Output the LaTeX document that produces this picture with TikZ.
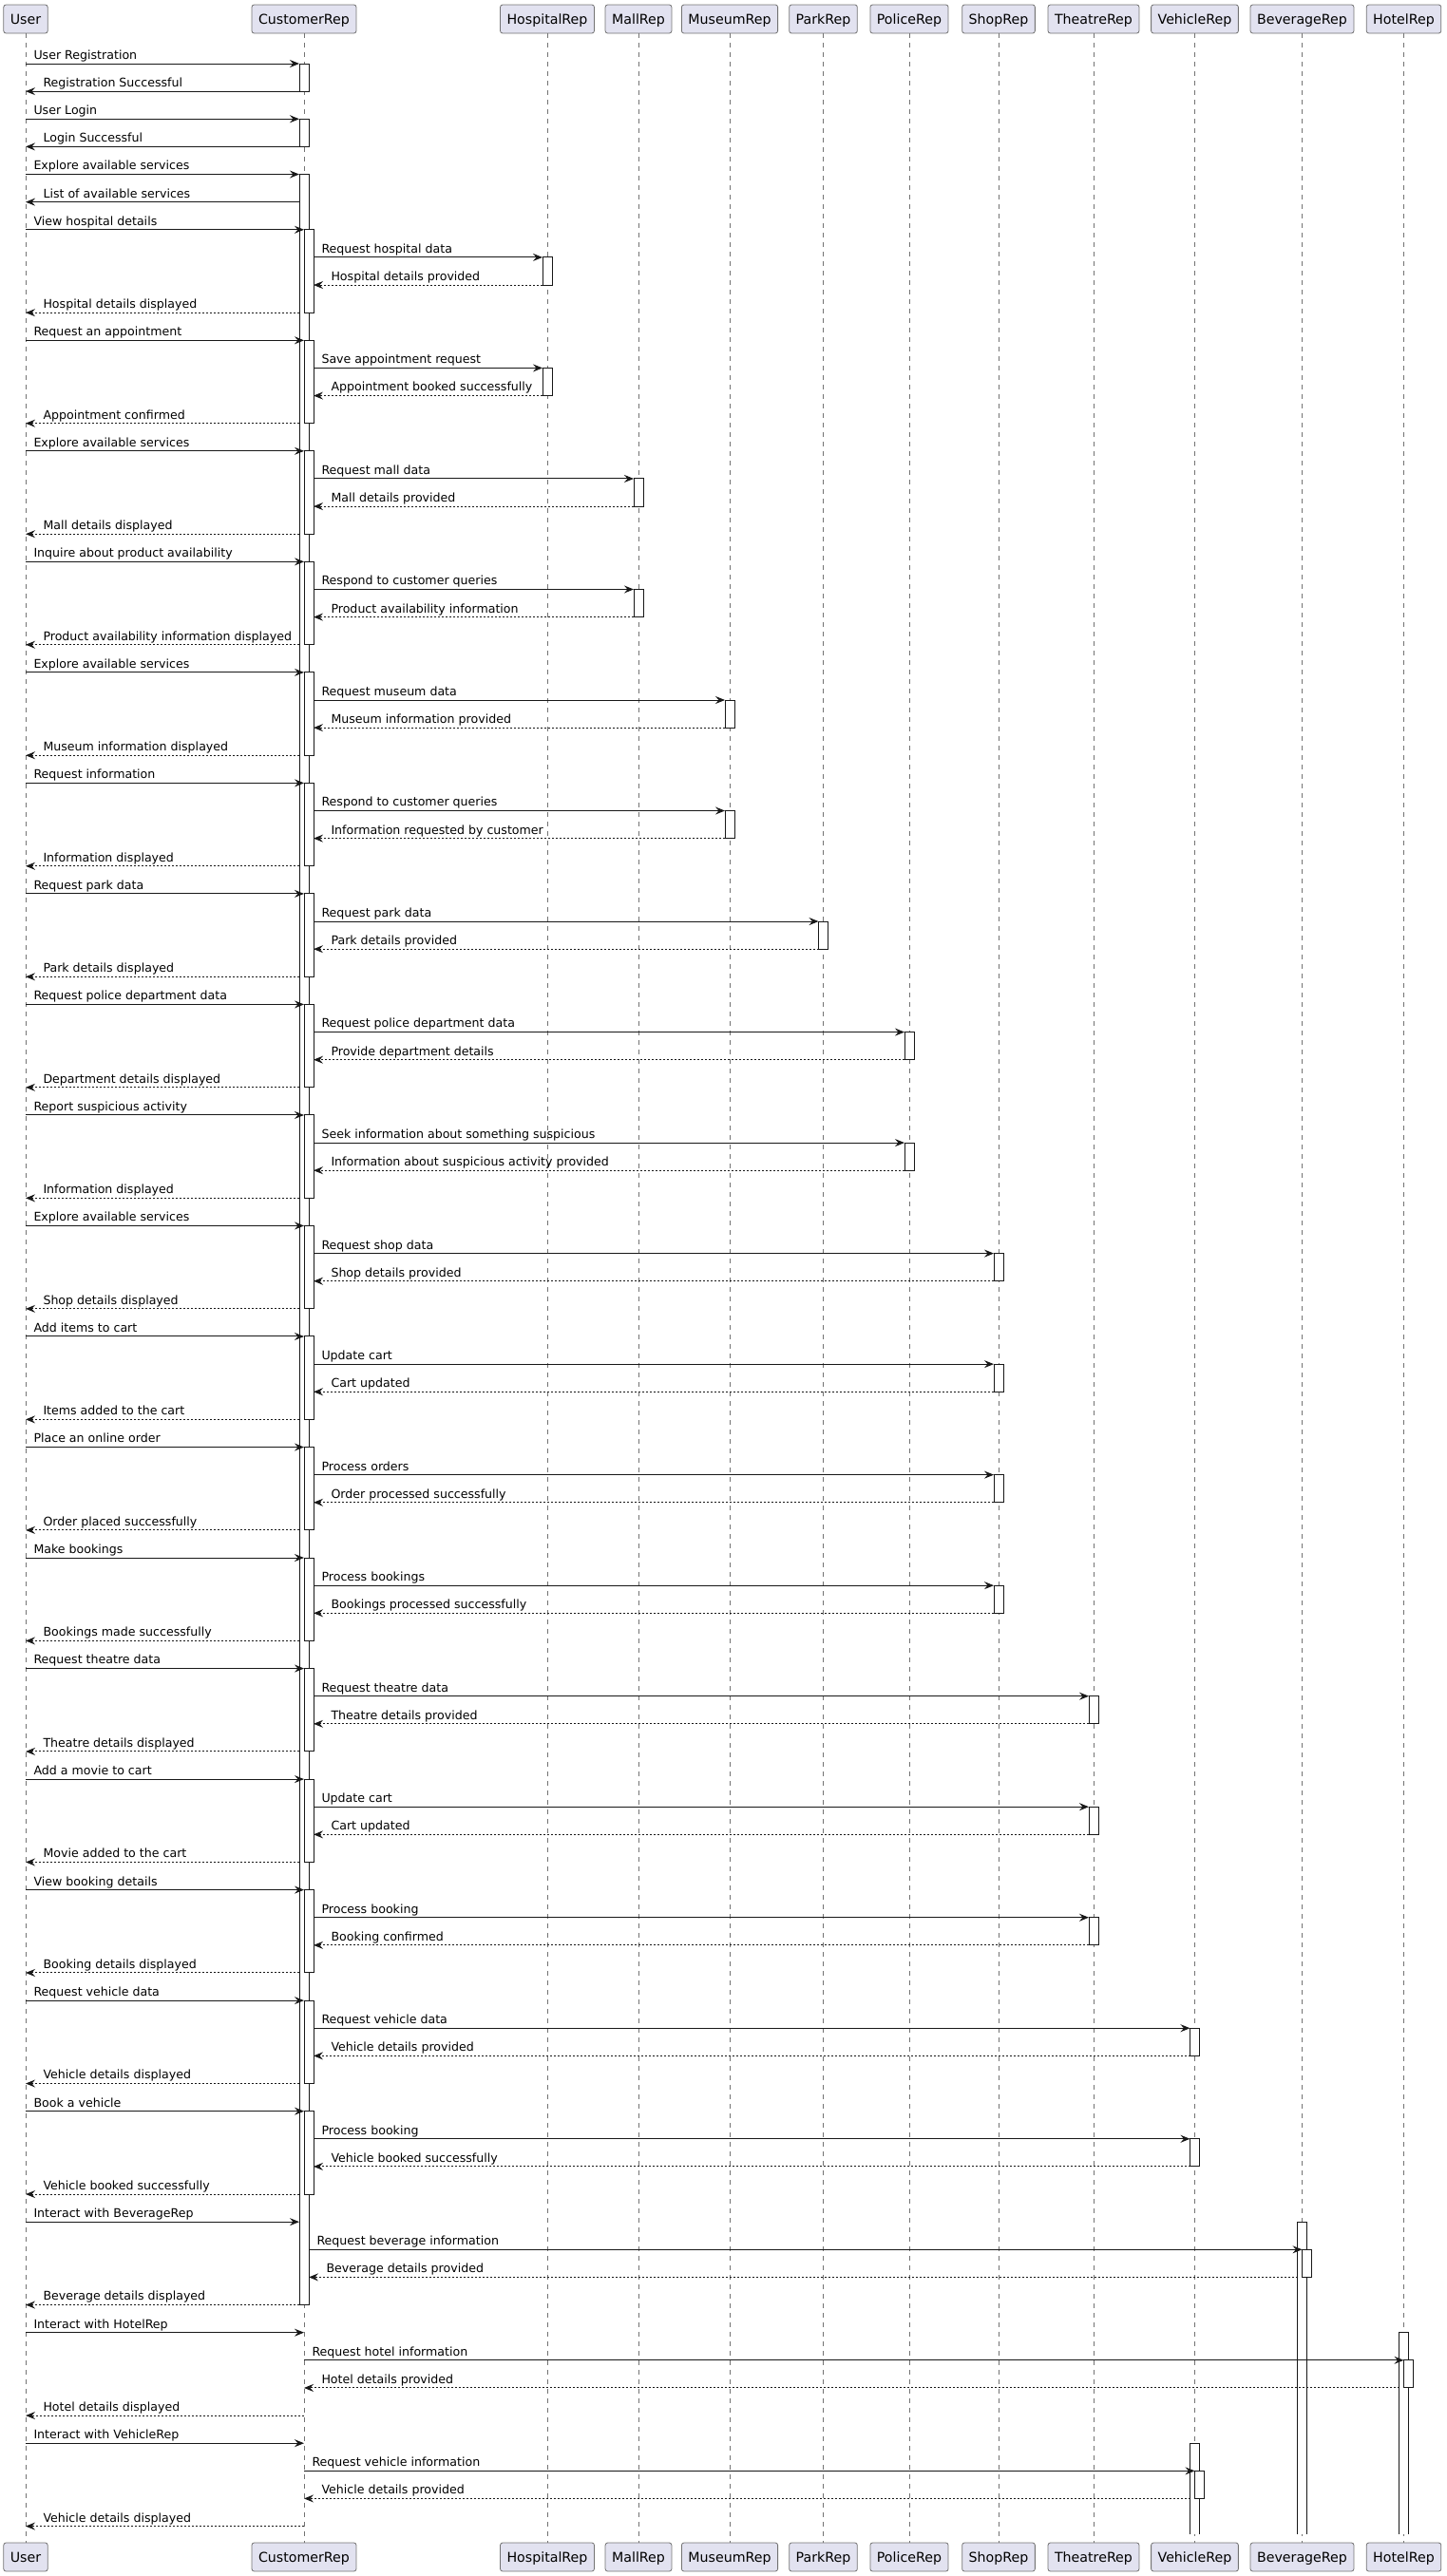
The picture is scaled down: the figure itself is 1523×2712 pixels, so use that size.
\documentclass[tikz,border=0pt]{standalone}
\usepackage{fontspec}
\setmainfont{DejaVu Sans}
\usetikzlibrary{arrows.meta, positioning}
\definecolor{partfill}{HTML}{E2E2F0}
\definecolor{ink}{HTML}{181818}

\begin{document}
\begin{tikzpicture}[x=1pt,y=-1pt,>={Stealth[length=10pt,width=8pt,inset=3.5pt]},line width=1pt]

		\tikzset{part/.style={draw=black!55, line width=0.8pt, fill=partfill,
								rounded corners=2.5pt, minimum height=30pt,
								inner xsep=7pt, inner ysep=0pt,
								text height=11.4pt, text depth=0pt,
								font=\fontsize{14.2}{17}\selectfont},
				 life/.style={draw=black!55, line width=0.8pt, dash pattern=on 5pt off 5pt},
				 act/.style={draw=ink, fill=white, line width=1pt},
				 msg/.style={draw=ink, ->, line width=1pt},
				 ret/.style={msg, dash pattern=on 2pt off 2pt},
				 lbl/.style={inner sep=0pt, anchor=base west, text=black,
								font=\fontsize{12.6}{15}\selectfont}}

		\useasboundingbox (0,0) rectangle (1523,2712);

		\foreach \p/\x/\txt in {User/27/User, Cust/320/CustomerRep, Hosp/576/HospitalRep,
				Mall/672/MallRep, Museum/768/MuseumRep, Park/866.5/ParkRep, Police/957/PoliceRep,
				Shop/1051/ShopRep, Theatre/1151/TheatreRep, Vehicle/1257.5/VehicleRep,
				Beverage/1370.5/BeverageRep, Hotel/1477.5/HotelRep}{
			\node[part] (\p) at (\x,20) {\txt};
			\node[part] (\p-b) at (\x,2692) {\txt};
			\draw[life] (\p) -- (\p-b);
		}

		\foreach \n in {1,...,90} \coordinate (r\n) at (0,{67+(\n-1)*29.13});
		\coordinate (rend) at (0,2668);

		\draw[act] ([xshift=-5]Cust |- r1) rectangle ([xshift=5]Cust |- r2);
		\draw[act] ([xshift=-5]Cust |- r3) rectangle ([xshift=5]Cust |- r4);
		\draw[act] ([xshift=-5]Cust |- r5) rectangle ([xshift=5]Cust |- r82);

		\foreach \k in {7,11,...,75}{
			\pgfmathtruncatemacro{\e}{\k+3}
			\draw[act] (Cust |- r\k) rectangle ([xshift=10]Cust |- r\e);
		}

		\foreach \p/\k in {Hosp/8, Hosp/12, Mall/16, Mall/20, Museum/24, Museum/28, Park/32,
				Police/36, Police/40, Shop/44, Shop/48, Shop/52, Shop/56, Theatre/60, Theatre/64,
				Theatre/68, Vehicle/72, Vehicle/76}{
			\pgfmathtruncatemacro{\e}{\k+1}
			\draw[act] ([xshift=-5]\p |- r\k) rectangle ([xshift=5]\p |- r\e);
		}

		\foreach \p/\k in {Beverage/79, Hotel/83, Vehicle/87}{
			\pgfmathtruncatemacro{\b}{\k+1}
			\pgfmathtruncatemacro{\e}{\k+2}
			\draw[act] ([xshift=-5]\p |- rend) -- ([xshift=-5]\p |- r\k)
				-- ([xshift=5]\p |- r\k) -- ([xshift=5]\p |- rend);
			\draw[act] (\p |- r\b) rectangle ([xshift=10]\p |- r\e);
		}

		\foreach \n/\src/\so/\dst/\dof/\txt in {
				1/User/0/Cust/-5/User Registration,
				3/User/0/Cust/-5/User Login,
				5/User/0/Cust/-5/Explore available services,
				7/User/0/Cust/0/View hospital details,
				8/Cust/10/Hosp/-5/Request hospital data,
				11/User/0/Cust/0/Request an appointment,
				12/Cust/10/Hosp/-5/Save appointment request,
				15/User/0/Cust/0/Explore available services,
				16/Cust/10/Mall/-5/Request mall data,
				19/User/0/Cust/0/Inquire about product availability,
				20/Cust/10/Mall/-5/Respond to customer queries,
				23/User/0/Cust/0/Explore available services,
				24/Cust/10/Museum/-5/Request museum data,
				27/User/0/Cust/0/Request information,
				28/Cust/10/Museum/-5/Respond to customer queries,
				31/User/0/Cust/0/Request park data,
				32/Cust/10/Park/-5/Request park data,
				35/User/0/Cust/0/Request police department data,
				36/Cust/10/Police/-5/Request police department data,
				39/User/0/Cust/0/Report suspicious activity,
				40/Cust/10/Police/-5/Seek information about something suspicious,
				43/User/0/Cust/0/Explore available services,
				44/Cust/10/Shop/-5/Request shop data,
				47/User/0/Cust/0/Add items to cart,
				48/Cust/10/Shop/-5/Update cart,
				51/User/0/Cust/0/Place an online order,
				52/Cust/10/Shop/-5/Process orders,
				55/User/0/Cust/0/Make bookings,
				56/Cust/10/Shop/-5/Process bookings,
				59/User/0/Cust/0/Request theatre data,
				60/Cust/10/Theatre/-5/Request theatre data,
				63/User/0/Cust/0/Add a movie to cart,
				64/Cust/10/Theatre/-5/Update cart,
				67/User/0/Cust/0/View booking details,
				68/Cust/10/Theatre/-5/Process booking,
				71/User/0/Cust/0/Request vehicle data,
				72/Cust/10/Vehicle/-5/Request vehicle data,
				75/User/0/Cust/0/Book a vehicle,
				76/Cust/10/Vehicle/-5/Process booking,
				79/User/0/Cust/-5/Interact with BeverageRep,
				80/Cust/5/Beverage/0/Request beverage information,
				83/User/0/Cust/0/Interact with HotelRep,
				84/Cust/0/Hotel/0/Request hotel information,
				87/User/0/Cust/0/Interact with VehicleRep,
				88/Cust/0/Vehicle/0/Request vehicle information}
			\draw[msg] ([xshift=\so]\src |- r\n) -- ([xshift=\dof]\dst |- r\n)
				node[lbl, pos=0, xshift=8pt, yshift=4.6pt] (l\n) {\txt};

		\foreach \n/\src/\so/\dst/\dof/\txt in {
				2/Cust/-5/User/0/Registration Successful,
				4/Cust/-5/User/0/Login Successful,
				6/Cust/-5/User/0/List of available services}
			\draw[msg] ([xshift=\so]\src |- r\n) -- ([xshift=\dof]\dst |- r\n)
				node[lbl, pos=1, xshift=18pt, yshift=4.6pt] (l\n) {\txt};

		\foreach \n/\src/\so/\dst/\dof/\txt in {
				9/Hosp/-5/Cust/10/Hospital details provided,
				10/Cust/-5/User/0/Hospital details displayed,
				13/Hosp/-5/Cust/10/Appointment booked successfully,
				14/Cust/-5/User/0/Appointment confirmed,
				17/Mall/-5/Cust/10/Mall details provided,
				18/Cust/-5/User/0/Mall details displayed,
				21/Mall/-5/Cust/10/Product availability information,
				22/Cust/-5/User/0/Product availability information displayed,
				25/Museum/-5/Cust/10/Museum information provided,
				26/Cust/-5/User/0/Museum information displayed,
				29/Museum/-5/Cust/10/Information requested by customer,
				30/Cust/-5/User/0/Information displayed,
				33/Park/-5/Cust/10/Park details provided,
				34/Cust/-5/User/0/Park details displayed,
				37/Police/-5/Cust/10/Provide department details,
				38/Cust/-5/User/0/Department details displayed,
				41/Police/-5/Cust/10/Information about suspicious activity provided,
				42/Cust/-5/User/0/Information displayed,
				45/Shop/-5/Cust/10/Shop details provided,
				46/Cust/-5/User/0/Shop details displayed,
				49/Shop/-5/Cust/10/Cart updated,
				50/Cust/-5/User/0/Items added to the cart,
				53/Shop/-5/Cust/10/Order processed successfully,
				54/Cust/-5/User/0/Order placed successfully,
				57/Shop/-5/Cust/10/Bookings processed successfully,
				58/Cust/-5/User/0/Bookings made successfully,
				61/Theatre/-5/Cust/10/Theatre details provided,
				62/Cust/-5/User/0/Theatre details displayed,
				65/Theatre/-5/Cust/10/Cart updated,
				66/Cust/-5/User/0/Movie added to the cart,
				69/Theatre/-5/Cust/10/Booking confirmed,
				70/Cust/-5/User/0/Booking details displayed,
				73/Vehicle/-5/Cust/10/Vehicle details provided,
				74/Cust/-5/User/0/Vehicle details displayed,
				77/Vehicle/-5/Cust/10/Vehicle booked successfully,
				78/Cust/-5/User/0/Vehicle booked successfully,
				81/Beverage/-5/Cust/5/Beverage details provided,
				82/Cust/-5/User/0/Beverage details displayed,
				85/Hotel/-5/Cust/0/Hotel details provided,
				86/Cust/0/User/0/Hotel details displayed,
				89/Vehicle/-5/Cust/0/Vehicle details provided,
				90/Cust/0/User/0/Vehicle details displayed}
			\draw[ret] ([xshift=\so]\src |- r\n) -- ([xshift=\dof]\dst |- r\n)
				node[lbl, pos=1, xshift=18pt, yshift=4.6pt] (l\n) {\txt};
\end{tikzpicture}
\end{document}
